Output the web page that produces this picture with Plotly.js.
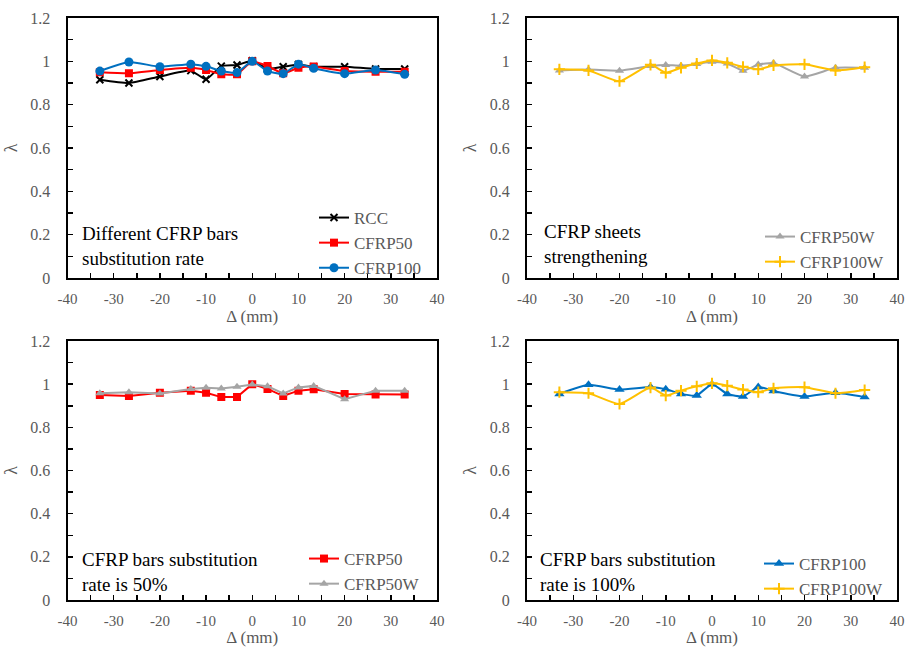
<!DOCTYPE html>
<html><head><meta charset="utf-8">
<script src="https://cdn.plot.ly/plotly-3.0.1.min.js"></script>
<style>html,body{margin:0;padding:0;background:#fff}#chart{width:912px;height:647px}</style>
</head><body><div id="chart"></div>
<script>
// ---- data ----
const delta = [-33, -26.7, -20, -13.3, -10, -6.7, -3.3, 0, 3.3, 6.7, 10, 13.3, 20, 26.7, 33];
const RCC      = [0.915, 0.900, 0.930, 0.957, 0.917, 0.978, 0.983, 1.003, 0.965, 0.975, 0.985, 0.975, 0.975, 0.965, 0.965];
const CFRP50   = [0.950, 0.945, 0.960, 0.970, 0.960, 0.940, 0.940, 1.000, 0.978, 0.945, 0.970, 0.976, 0.955, 0.952, 0.952];
const CFRP100  = [0.955, 0.997, 0.975, 0.987, 0.977, 0.955, 0.948, 1.000, 0.955, 0.943, 0.987, 0.968, 0.943, 0.960, 0.940];
const CFRP50W  = [0.958, 0.962, 0.957, 0.978, 0.983, 0.980, 0.988, 0.998, 0.990, 0.957, 0.985, 0.992, 0.930, 0.970, 0.970];
const CFRP100W = [0.963, 0.958, 0.908, 0.984, 0.947, 0.970, 0.990, 1.004, 0.993, 0.975, 0.963, 0.981, 0.986, 0.958, 0.973];
const xTickVals = [-40, -30, -20, -10, 0, 10, 20, 30, 40];
const xTickText = ['-40', '-30', '-20', '-10', '0', '10', '20', '30', '40'];
const yTickVals = [0, 0.2, 0.4, 0.6, 0.8, 1, 1.2];
const yTickText = ['0', '0.2', '0.4', '0.6', '0.8', '1', '1.2'];
const panelNotes = ['Different CFRP bars<br>substitution rate', 'CFRP sheets<br>strengthening',
                    'CFRP bars substitution<br>rate is 50%', 'CFRP bars substitution<br>rate is 100%'];

// ---- style helpers ----
const W = 912, H = 647;
const px = v => v / W, py = v => 1 - v / H;
const SERIF = 'Liberation Serif';
const GRAY_TXT = '#595959';
const COL = {RCC:'#000000', C50:'#FF0000', C100:'#0070C0', C50W:'#A5A5A5', C100W:'#FFC000'};

function tr(y, name, color, symbol, size, ax, leg, shape) {
  return {
    x: delta, y: y, name: name, type: 'scatter', mode: 'lines+markers',
    xaxis: 'x' + ax, yaxis: 'y' + ax, legend: leg, legendgroup: name + ax,
    line: {color: color, width: 2, shape: shape || 'spline', smoothing: 0.5},
    marker: {symbol: symbol, size: size, color: color, line: {color: color, width: symbol.indexOf('cross-thin') >= 0 || symbol === 'x-thin' ? 2 : 0}}
  };
}

const data = [
  tr(RCC, 'RCC', COL.RCC, 'x-thin', 7, '', 'legend'),
  tr(CFRP50, 'CFRP50', COL.C50, 'square', 8, '', 'legend'),
  tr(CFRP100, 'CFRP100', COL.C100, 'circle', 9, '', 'legend'),
  tr(CFRP50W, 'CFRP50W', COL.C50W, 'triangle-up', 8, '2', 'legend2'),
  tr(CFRP100W, 'CFRP100W', COL.C100W, 'cross-thin', 8, '2', 'legend2'),
  tr(CFRP50, 'CFRP50', COL.C50, 'square', 8, '3', 'legend3', 'linear'),
  tr(CFRP50W, 'CFRP50W', COL.C50W, 'triangle-up', 8, '3', 'legend3', 'linear'),
  tr(CFRP100, 'CFRP100', COL.C100, 'triangle-up', 9, '4', 'legend4'),
  tr(CFRP100W, 'CFRP100W', COL.C100W, 'cross-thin', 8, '4', 'legend4')
];

const tickCommon = {ticks: 'inside', ticklen: 5, tickwidth: 1.5, tickcolor: '#000',
  showline: true, linewidth: 2, linecolor: '#000', mirror: true, showgrid: false, zeroline: false};

function xa(dom, anchor, tstand) {
  return Object.assign({}, tickCommon, {
    domain: dom, anchor: anchor, range: [-40, 40], tickmode: 'array', tickvals: xTickVals, ticktext: xTickText,
    ticklabelstandoff: 6, tickfont: {family: SERIF, size: 15, color: GRAY_TXT},
    minor: {tickmode: 'linear', tick0: -40, dtick: 5, ticks: 'inside', ticklen: 5, tickwidth: 1.5, tickcolor: '#000', showgrid: false},
    title: {text: 'Δ (mm)', font: {family: SERIF, size: 17, color: GRAY_TXT}, standoff: tstand}
  });
}
function ya(dom, anchor) {
  return Object.assign({}, tickCommon, {
    domain: dom, anchor: anchor, range: [0, 1.2], tickmode: 'array', tickvals: yTickVals, ticktext: yTickText,
    ticklabelstandoff: 12, tickfont: {family: SERIF, size: 16, color: GRAY_TXT},
    minor: {tickmode: 'linear', tick0: 0, dtick: 0.1, ticks: 'inside', ticklen: 5, tickwidth: 1.5, tickcolor: '#000', showgrid: false},
    title: {text: 'λ', font: {family: SERIF, size: 18, color: GRAY_TXT}, standoff: 8}
  });
}

const XL = [px(67.5), px(437)], XR = [px(527), px(897)];
const YT = [py(278), py(18)], YB = [py(600), py(341)];

const legBase = {bgcolor: 'rgba(0,0,0,0)', borderwidth: 0, xanchor: 'left', yanchor: 'top',
  font: {family: SERIF, size: 17, color: GRAY_TXT}, tracegroupgap: 0, traceorder: 'grouped'};

function note(txt, x, y) {
  return {text: txt, xref: 'paper', yref: 'paper', x: px(x), y: py(y), xanchor: 'left', yanchor: 'top',
    align: 'left', showarrow: false, font: {family: SERIF, size: 19, color: '#000'}};
}

const layout = {
  width: W, height: H, margin: {l: 0, r: 0, t: 0, b: 0}, paper_bgcolor: '#fff', plot_bgcolor: '#fff',
  xaxis: xa(XL, 'y', 4), yaxis: ya(YT, 'x'),
  xaxis2: xa(XR, 'y2', 4), yaxis2: ya(YT, 'x2'),
  xaxis3: xa(XL, 'y3', 4), yaxis3: ya(YB, 'x3'),
  xaxis4: xa(XR, 'y4', 4), yaxis4: ya(YB, 'x4'),
  legend: Object.assign({}, legBase, {x: px(314), y: py(200)}),
  legend2: Object.assign({}, legBase, {x: px(760), y: py(219)}),
  legend3: Object.assign({}, legBase, {x: px(304), y: py(541)}),
  legend4: Object.assign({}, legBase, {x: px(759), y: py(546)}),
  annotations: [note(panelNotes[0], 80, 221), note(panelNotes[1], 542, 219),
                note(panelNotes[2], 80, 547), note(panelNotes[3], 538, 547)]
};

Plotly.newPlot('chart', data, layout, {displayModeBar: false, staticPlot: true});
</script></body></html>
